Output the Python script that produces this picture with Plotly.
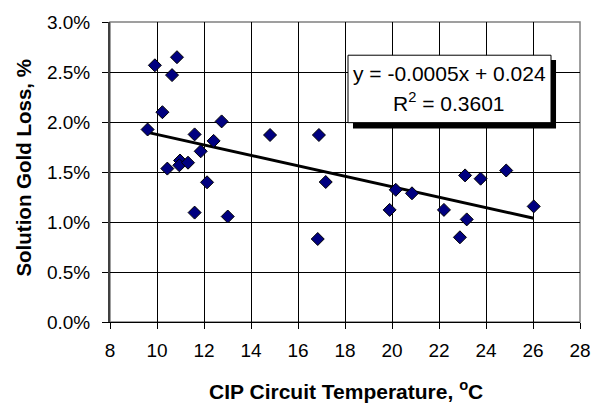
import numpy as np
import plotly.graph_objects as go

# Data
temperature_c = [9.60, 9.91, 10.23, 10.44, 10.64, 10.85, 10.98, 10.95, 11.32, 11.60,
                 11.60, 11.86, 12.13, 12.41, 12.75, 13.01, 14.81, 16.89, 16.84, 17.18,
                 19.90, 20.16, 20.85, 22.21, 22.89, 23.11, 23.18, 23.77, 24.86, 26.03]
gold_loss_pct = [1.925, 2.567, 2.098, 1.534, 2.469, 2.648, 1.615, 1.567, 1.593, 1.876,
                 1.094, 1.707, 1.397, 1.811, 2.006, 1.055, 1.870, 1.870, 0.830, 1.400,
                 1.121, 1.322, 1.287, 1.121, 0.847, 1.466, 1.026, 1.433, 1.515, 1.156]
x_ticks = [8, 10, 12, 14, 16, 18, 20, 22, 24, 26, 28]
y_ticks = [0.0, 0.005, 0.010, 0.015, 0.020, 0.025, 0.030]
eq_text = "y = -0.0005x + 0.024"
r2_text = "R<sup>2</sup> = 0.3601"
x_title = "CIP Circuit Temperature, <sup>o</sup>C"
y_title = "Solution Gold Loss, %"

x = np.array(temperature_c)
y = np.array(gold_loss_pct) / 100.0

slope, intercept = np.polyfit(x, y, 1)
x_fit = np.array([x.min(), x.max()])
y_fit = slope * x_fit + intercept

FONT = "Liberation Sans, Arial, sans-serif"

fig = go.Figure()
fig.add_trace(go.Scatter(
    x=x_fit, y=y_fit, mode="lines",
    line=dict(color="black", width=3), hoverinfo="skip", showlegend=False))
fig.add_trace(go.Scatter(
    x=x, y=y, mode="markers",
    marker=dict(symbol="diamond", size=10, color="#000080",
                line=dict(color="black", width=1)),
    showlegend=False))

fig.update_layout(
    width=603, height=408,
    margin=dict(l=110, r=23, t=15, b=86),
    paper_bgcolor="white", plot_bgcolor="white",
    font=dict(family=FONT, size=19, color="black"),
    xaxis=dict(range=[8, 28], tickvals=x_ticks, showgrid=True,
               gridcolor="black", gridwidth=1, zeroline=False,
               showline=True, linecolor="black", linewidth=1,
               ticks="outside", ticklen=6, tickcolor="black",
               ticklabelstandoff=5),
    yaxis=dict(range=[0, 0.03], tickvals=y_ticks, tickformat=".1%",
               showgrid=True, gridcolor="black", gridwidth=1, zeroline=False,
               showline=True, linecolor="#404040", linewidth=2,
               ticks="outside", ticklen=6, tickcolor="black",
               ticklabelstandoff=8),
    shapes=[
        # plot-area border (top & right)
        dict(type="rect", xref="paper", yref="paper", x0=0, x1=1, y0=0, y1=1,
             line=dict(color="#808080", width=1.5), fillcolor="rgba(0,0,0,0)",
             layer="below"),
        # equation box shadow
        dict(type="rect", xref="paper", yref="paper",
             x0=0.517, x1=0.949, y0=0.645, y1=0.873,
             line=dict(width=0), fillcolor="black", layer="above"),
        # equation box
        dict(type="rect", xref="paper", yref="paper",
             x0=0.5064, x1=0.9383, y0=0.6645, y1=0.8893,
             line=dict(color="black", width=1), fillcolor="white", layer="above"),
    ],
    annotations=[
        dict(text=eq_text, xref="paper", yref="paper", x=0.7223, y=0.8274,
             xanchor="center", yanchor="middle", showarrow=False,
             font=dict(size=21)),
        dict(text=r2_text, xref="paper", yref="paper", x=0.7223, y=0.7329,
             xanchor="center", yanchor="middle", showarrow=False,
             font=dict(size=21)),
        dict(text="<b>" + x_title + "</b>", xref="paper", yref="paper",
             x=0.502, y=-0.228, xanchor="center", yanchor="middle",
             showarrow=False, font=dict(size=21)),
        dict(text="<b>" + y_title + "</b>", xref="paper", yref="paper",
             x=-0.183, y=0.5147, xanchor="center", yanchor="middle",
             textangle=-90, showarrow=False, font=dict(size=20.5)),
    ],
)

fig.write_html("out.html")
